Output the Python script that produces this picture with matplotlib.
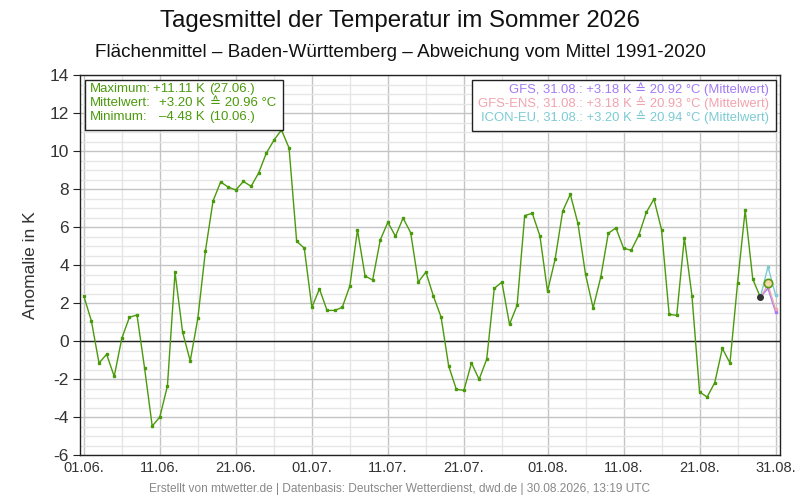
import matplotlib as mpl
import matplotlib.pyplot as plt
import matplotlib.dates as mdates
from matplotlib.patches import Rectangle
import numpy as np

mpl.use("Agg")
plt.rcParams["font.family"] = ["Liberation Sans", "DejaVu Sans"]

GREEN = "#4b9a0c"
GFS_C = "#a27af4"
ENS_C = "#f2a3ad"
ICON_C = "#7ccbd3"

# Observed daily anomalies, 01.06. - 29.08.2026 (K)
obs_start = "2026-06-01"
obs_values = [
    2.37, 1.05, -1.16, -0.70, -1.86, 0.14, 1.25, 1.37, -1.44, -4.48,
    -4.00, -2.37, 3.61, 0.46, -1.05, 1.19, 4.74, 7.37, 8.37, 8.10,
    7.95, 8.40, 8.14, 8.84, 9.88, 10.56, 11.11, 10.16, 5.25, 4.89,
    1.77, 2.74, 1.61, 1.61, 1.77, 2.90, 5.84, 3.42, 3.21, 5.32,
    6.25, 5.51, 6.47, 5.70, 3.10, 3.63, 2.35, 1.26, -1.32, -2.54,
    -2.60, -1.16, -2.02, -0.96, 2.77, 3.10, 0.88, 1.88, 6.60, 6.72,
    5.53, 2.62, 4.30, 6.84, 7.72, 6.19, 3.51, 1.74, 3.35, 5.67,
    5.95, 4.89, 4.77, 5.56, 6.77, 7.47, 5.86, 1.40, 1.35, 5.44,
    2.38, -2.68, -2.95, -2.19, -0.39, -1.16, 3.04, 6.88, 3.26, 2.30,
]

# Forecasts 29.08. - 31.08.
fc_dates = ["2026-08-29", "2026-08-30", "2026-08-31"]
gfs_values = [2.30, 2.77, 1.53]
ens_values = [2.30, 2.96, 1.67]
icon_values = [2.30, 3.91, 2.42]
today_date = "2026-08-30"
today_value = 3.05

tick_dates = ["2026-06-01", "2026-06-11", "2026-06-21", "2026-07-01", "2026-07-11",
              "2026-07-21", "2026-08-01", "2026-08-11", "2026-08-21", "2026-08-31"]
tick_labels = ["01.06.", "11.06.", "21.06.", "01.07.", "11.07.",
               "21.07.", "01.08.", "11.08.", "21.08.", "31.08."]

obs_dates = np.arange(np.datetime64(obs_start), np.datetime64(obs_start) + len(obs_values))
fc_x = np.array(fc_dates, dtype="datetime64[D]")
ticks = np.array(tick_dates, dtype="datetime64[D]")
minor_ticks = ticks[:-1] + np.timedelta64(5, "D")

fig = plt.figure(figsize=(8, 5), dpi=100)
ax = fig.add_axes([0.1, 0.09, 0.875, 0.76])

ax.plot(obs_dates, obs_values, color=GREEN, lw=1.0, marker="s", ms=1.8, zorder=4)
ax.plot(fc_x, gfs_values, color=GFS_C, lw=1.0, marker="s", ms=1.8, zorder=3)
ax.plot(fc_x, ens_values, color=ENS_C, lw=1.0, marker="s", ms=1.8, zorder=3)
ax.plot(fc_x, icon_values, color=ICON_C, lw=1.0, marker="s", ms=1.8, zorder=3)
ax.plot(obs_dates[-1:], obs_values[-1:], ls="none", marker="o", ms=4, color="#333333", zorder=6)
ax.plot([np.datetime64(today_date)], [today_value], ls="none", marker="o", ms=6,
        mfc="#f3d9a8", mec="#5a9a10", mew=1.2, zorder=6)

ax.axhline(0, color="#222222", lw=1.0, zorder=2)

ax.set_ylim(-6, 14)
ax.set_xlim(np.datetime64("2026-06-01") - np.timedelta64(12, "h"),
            np.datetime64("2026-08-31") + np.timedelta64(14, "h"))
ax.set_yticks(np.arange(-6, 15, 2))
ax.set_yticks(np.arange(-6, 14.1, 0.5), minor=True)
ax.set_yticklabels([str(v) for v in range(-6, 15, 2)])
ax.set_xticks(mdates.date2num(ticks))
ax.set_xticks(mdates.date2num(minor_ticks), minor=True)
ax.set_xticklabels(tick_labels)

ax.grid(which="major", color="#c4c4c4", lw=1.0, zorder=0)
ax.grid(which="minor", color="#e6e6e6", lw=1.0, zorder=0)
ax.set_axisbelow(True)
ax.tick_params(axis="y", which="major", length=5, color="#222222", labelsize=12.5,
               labelcolor="#333333", pad=3)
ax.tick_params(axis="y", which="minor", length=0)
ax.tick_params(axis="x", which="both", length=0, labelsize=10.5, labelcolor="#333333", pad=4)
for s in ax.spines.values():
    s.set_color("#222222")
    s.set_linewidth(1.0)

ax.set_ylabel("Anomalie in K", fontsize=12.5, color="#333333", labelpad=8)

# Statistic box (left)
ax.add_patch(Rectangle((0.007, 0.855), 0.283, 0.132, transform=ax.transAxes,
                       facecolor="white", edgecolor="#222222", lw=1.0, zorder=7))
rows = [("Maximum:", "+11.11 K", "(27.06.)"),
        ("Mittelwert:", "+3.20 K", "≙ 20.96 °C"),
        ("Minimum:", "–4.48 K", "(10.06.)")]
for i, (a, b, c) in enumerate(rows):
    y = 0.963 - i * 0.037
    kw = dict(transform=ax.transAxes, va="center", fontsize=9.5, color=GREEN, zorder=8)
    ax.text(0.014, y, a, ha="left", **kw)
    ax.text(0.178, y, b, ha="right", **kw)
    ax.text(0.185, y, c, ha="left", **kw)

# Forecast box (right)
ax.add_patch(Rectangle((0.560, 0.853), 0.434, 0.134, transform=ax.transAxes,
                       facecolor="white", edgecolor="#222222", lw=1.0, zorder=7))
fc_rows = [("GFS, 31.08.: +3.18 K ≙ 20.92 °C (Mittelwert)", GFS_C),
           ("GFS-ENS, 31.08.: +3.18 K ≙ 20.93 °C (Mittelwert)", ENS_C),
           ("ICON-EU, 31.08.: +3.20 K ≙ 20.94 °C (Mittelwert)", ICON_C)]
for i, (t, c) in enumerate(fc_rows):
    ax.text(0.984, 0.963 - i * 0.037, t, transform=ax.transAxes, ha="right", va="center",
            fontsize=9.35, color=c, zorder=8)

fig.text(0.5, 0.957, "Tagesmittel der Temperatur im Sommer 2026", ha="center", va="center",
         fontsize=17.3, color="#111111")
fig.text(0.5, 0.895, "Flächenmittel – Baden-Württemberg – Abweichung vom Mittel 1991-2020",
         ha="center", va="center", fontsize=13.6, color="#111111")
fig.text(0.5, 0.022, "Erstellt von mtwetter.de | Datenbasis: Deutscher Wetterdienst, dwd.de | "
         "30.08.2026, 13:19 UTC", ha="center", va="center", fontsize=8.6, color="#888888")

fig.savefig("out.png", dpi=100)
